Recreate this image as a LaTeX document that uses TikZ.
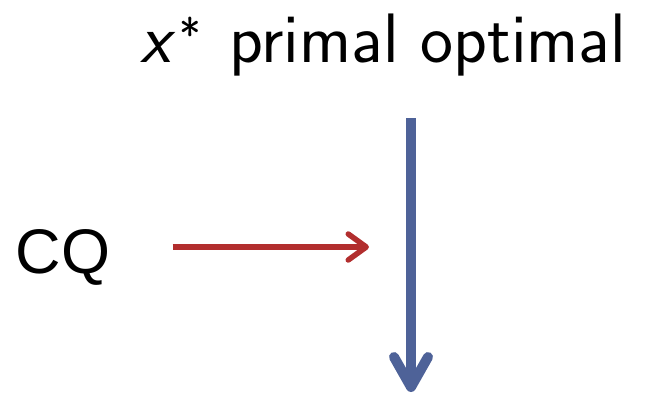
\documentclass[tikz,border=0pt]{standalone}
\usepackage{fontspec}
\newfontfamily\arialfont{Liberation Sans}
\usetikzlibrary{arrows.meta,positioning}

\definecolor{redline}{RGB}{178,46,46}
\definecolor{blueline}{RGB}{78,98,152}

\begin{document}
\begin{tikzpicture}[x=1pt, y=-1pt,
    label/.style={inner sep=0pt, outer sep=0pt},
    redarrow/.style={redline, line width=5.5pt, -{Straight Barb[round, length=18pt, width=26pt]}},
    bluearrow/.style={blueline, line width=10pt, -{Straight Barb[round, length=30pt, width=34pt]}}]
    \useasboundingbox (0,0) rectangle (646,394);

    % Labels
    \node[label, anchor=base east, font=\sffamily\fontsize{70}{74}\selectfont] (primal) at (626,62)
        {{\itshape x}\hspace{9pt}\raisebox{11pt}{\fontsize{46}{46}\selectfont *}\hspace{6pt} primal optimal};
    \node[label, anchor=base west, font=\arialfont\fontsize{63}{66}\selectfont] (cq) at (16,273) {CQ};

    % Arrows
    \coordinate (redend) at (369,247);
    \coordinate (bluetop) at (411,118);
    \coordinate (blueend) at (411,392);
    \draw[redarrow] ([xshift=62pt]cq.east |- redend) -- (redend);
    \draw[bluearrow] (bluetop) -- (blueend);
\end{tikzpicture}
\end{document}
